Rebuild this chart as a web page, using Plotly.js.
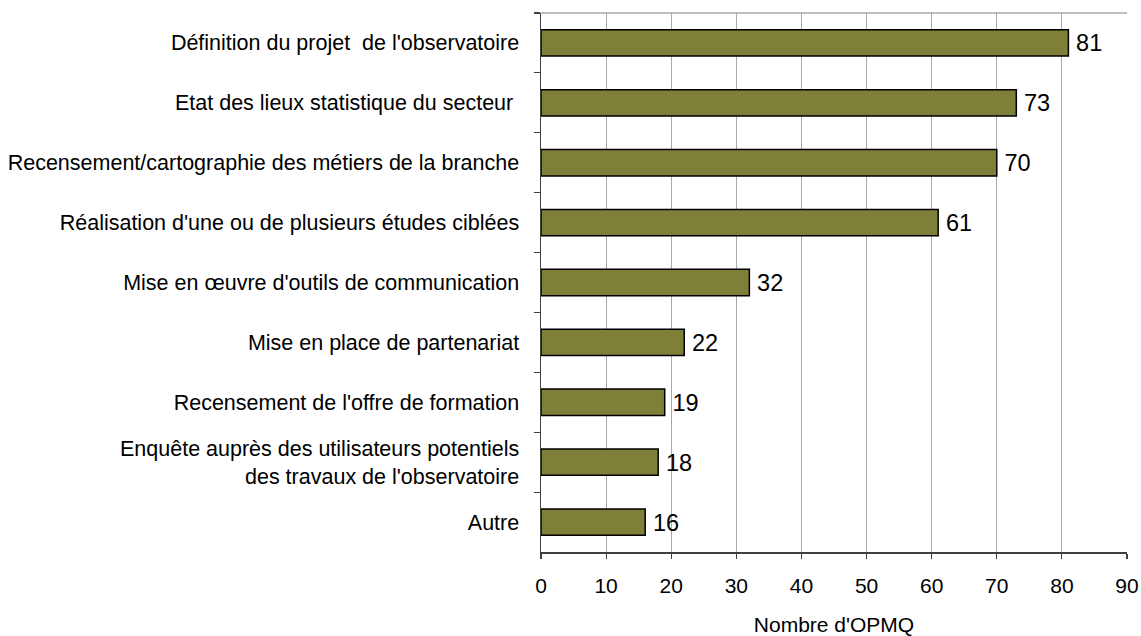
<!DOCTYPE html>
<html>
<head>
<meta charset="utf-8">
<script src="https://cdn.plot.ly/plotly-3.0.1.min.js"></script>
<style>html,body{margin:0;padding:0;background:#fff;}#chart{width:1141px;height:636px;}</style>
</head>
<body>
<div id="chart"></div>
<script>
const categories = [
  "Définition du projet\u00a0 de l'observatoire",
  "Etat des lieux statistique du secteur\u00a0",
  "Recensement/cartographie des métiers de la branche",
  "Réalisation d'une ou de plusieurs études ciblées",
  "Mise en œuvre d'outils de communication",
  "Mise en place de partenariat",
  "Recensement de l'offre de formation",
  "Enquête auprès des utilisateurs potentiels<br>des travaux de l'observatoire",
  "Autre"
];
const values = [81, 73, 70, 61, 32, 22, 19, 18, 16];
const xTickValues = [0, 10, 20, 30, 40, 50, 60, 70, 80, 90];
const xTitle = "Nombre d'OPMQ";

const trace = {
  type: 'bar',
  orientation: 'h',
  y: categories,
  x: values,
  text: values.map(v => '\u2009' + v),
  textposition: 'outside',
  cliponaxis: false,
  textfont: {family: 'Liberation Sans, Arial, sans-serif', size: 25, color: '#000'},
  marker: {color: '#7E7F38', line: {color: '#000', width: 1.5}},
  hoverinfo: 'none'
};

const layout = {
  width: 1141, height: 636,
  margin: {l: 541, r: 14, t: 13, b: 84},
  paper_bgcolor: '#fff', plot_bgcolor: '#fff',
  bargap: 0.56,
  showlegend: false,
  font: {family: 'Liberation Sans, Arial, sans-serif', color: '#000'},
  xaxis: {
    range: [0, 90],
    tickvals: xTickValues,
    ticktext: xTickValues.map(String),
    showgrid: true, gridcolor: '#A8A8A8', gridwidth: 1,
    zeroline: false,
    showline: true, linecolor: '#404040', linewidth: 1.5,
    ticks: 'outside', ticklen: 5, tickcolor: '#404040', tickwidth: 1.2,
    tickfont: {size: 21, color: '#000'},
    ticklabelstandoff: 9,
    title: {text: xTitle, font: {size: 21, color: '#000'}, standoff: 24}
  },
  yaxis: {
    type: 'category',
    autorange: 'reversed',
    showgrid: false, zeroline: false,
    showline: true, linecolor: '#404040', linewidth: 1.5,
    ticks: 'outside', tickson: 'boundaries', ticklen: 6, tickcolor: '#404040', tickwidth: 1.2,
    tickfont: {size: 21.5, color: '#000'},
    ticklabelstandoff: 16
  },
  shapes: [
    {type: 'line', xref: 'paper', yref: 'paper', x0: 0, x1: 1, y0: 1, y1: 1,
     line: {color: '#A8A8A8', width: 1.5}}
  ]
};

Plotly.newPlot('chart', [trace], layout, {staticPlot: true, displayModeBar: false});
</script>
</body>
</html>
